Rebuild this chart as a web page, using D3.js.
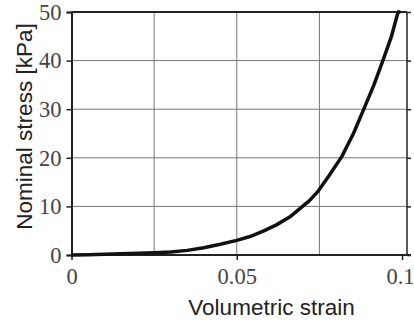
<!DOCTYPE html>
<html><head><meta charset="utf-8">
<script src="https://cdn.jsdelivr.net/npm/d3@7"></script>
<style>body{margin:0;background:#fff}svg{display:block}</style>
</head><body>
<script>
const strain = [0, 0.005, 0.01, 0.015, 0.02, 0.025, 0.03, 0.035, 0.04, 0.045, 0.05, 0.054, 0.058, 0.062, 0.066, 0.069, 0.072, 0.0747, 0.078, 0.0818, 0.0853, 0.0883, 0.0915, 0.0942, 0.0968, 0.0988, 0.0995];
const stress = [0, 0.05, 0.15, 0.25, 0.35, 0.45, 0.6, 0.95, 1.5, 2.2, 3.0, 3.8, 4.9, 6.2, 7.8, 9.5, 11.2, 13.2, 16.4, 20.3, 25, 29.8, 35, 40, 45, 50, 50];
const xTicks = [0, 0.05, 0.1];
const xTickLabels = ["0", "0.05", "0.1"];
const xGrid = [0.025, 0.05, 0.075];
const yTicks = [0, 10, 20, 30, 40, 50];
const yGrid = [10, 20, 30, 40];

const W = 414, H = 324;
const svg = d3.select("body").append("svg").attr("width", W).attr("height", H);
const x = d3.scaleLinear().domain([0, 0.1015]).range([71.5, 407]);
const y = d3.scaleLinear().domain([0, 50]).range([255, 12]);

// grid
svg.append("g").selectAll("line").data(xGrid).join("line")
  .attr("x1", d => x(d)).attr("x2", d => x(d)).attr("y1", y(50)).attr("y2", y(0))
  .attr("stroke", "#777").attr("stroke-width", 1);
svg.append("g").selectAll("line").data(yGrid).join("line")
  .attr("x1", x(0)).attr("x2", x(0.1015)).attr("y1", d => y(d)).attr("y2", d => y(d))
  .attr("stroke", "#777").attr("stroke-width", 1);

// frame
svg.append("line").attr("x1", x(0)).attr("x2", x(0.1015)).attr("y1", y(50)).attr("y2", y(50)).attr("stroke", "#222").attr("stroke-width", 2);
svg.append("line").attr("x1", x(0.1015)).attr("x2", x(0.1015)).attr("y1", y(50)).attr("y2", y(0)).attr("stroke", "#222").attr("stroke-width", 1.5);

const serif = "'Liberation Serif', 'Times New Roman', serif";
// left axis
const yAxis = svg.append("g").attr("transform", `translate(${x(0)},0)`)
  .call(d3.axisLeft(y).tickValues(yTicks).tickSize(5).tickPadding(5));
yAxis.attr("font-family", null).attr("font-size", null);
yAxis.select(".domain").attr("stroke", "#222").attr("stroke-width", 2);
yAxis.selectAll(".tick line").attr("stroke", "#222").attr("stroke-width", 1.5);
yAxis.selectAll("text").style("font-family", serif).style("font-size", "22.5px").attr("fill", "#444");

// right ticks
const yAxisR = svg.append("g").attr("transform", `translate(${x(0.1015)},0)`)
  .call(d3.axisRight(y).tickValues(yTicks).tickSize(4).tickFormat(""));
yAxisR.select(".domain").remove();
yAxisR.selectAll(".tick line").attr("stroke", "#222").attr("stroke-width", 1.5);

// bottom axis
const xAxis = svg.append("g").attr("transform", `translate(0,${y(0)})`)
  .call(d3.axisBottom(x).tickValues(xTicks).tickFormat((d, i) => xTickLabels[i]).tickSize(5).tickPadding(8));
xAxis.attr("font-family", null).attr("font-size", null);
xAxis.select(".domain").remove();
xAxis.selectAll(".tick line").attr("stroke", "#222").attr("stroke-width", 1.5);
xAxis.selectAll("text").style("font-family", serif).style("font-size", "22.5px").attr("fill", "#444")
  .attr("dx", (d, i) => i === xTicks.length - 1 ? -2 : 0);
svg.append("line").attr("x1", x(0) - 1).attr("x2", 411).attr("y1", y(0)).attr("y2", y(0)).attr("stroke", "#222").attr("stroke-width", 2);

// curve
const pts = strain.map((s, i) => [s, stress[i]]);
svg.append("path").datum(pts)
  .attr("d", d3.line().x(d => x(d[0])).y(d => y(d[1])))
  .attr("fill", "none").attr("stroke", "#111").attr("stroke-width", 3.5).attr("stroke-linejoin", "round");

// titles
const sans = "'Liberation Sans', Arial, sans-serif";
svg.append("text").attr("x", 271.5).attr("y", 315).attr("text-anchor", "middle")
  .style("font-family", sans).style("font-size", "22.5px").attr("fill", "#222").text("Volumetric strain");
svg.append("text").attr("transform", "translate(32,126.5) rotate(-90)").attr("text-anchor", "middle")
  .style("font-family", sans).style("font-size", "22.5px").attr("fill", "#222").text("Nominal stress [kPa]");
</script>
</body></html>
